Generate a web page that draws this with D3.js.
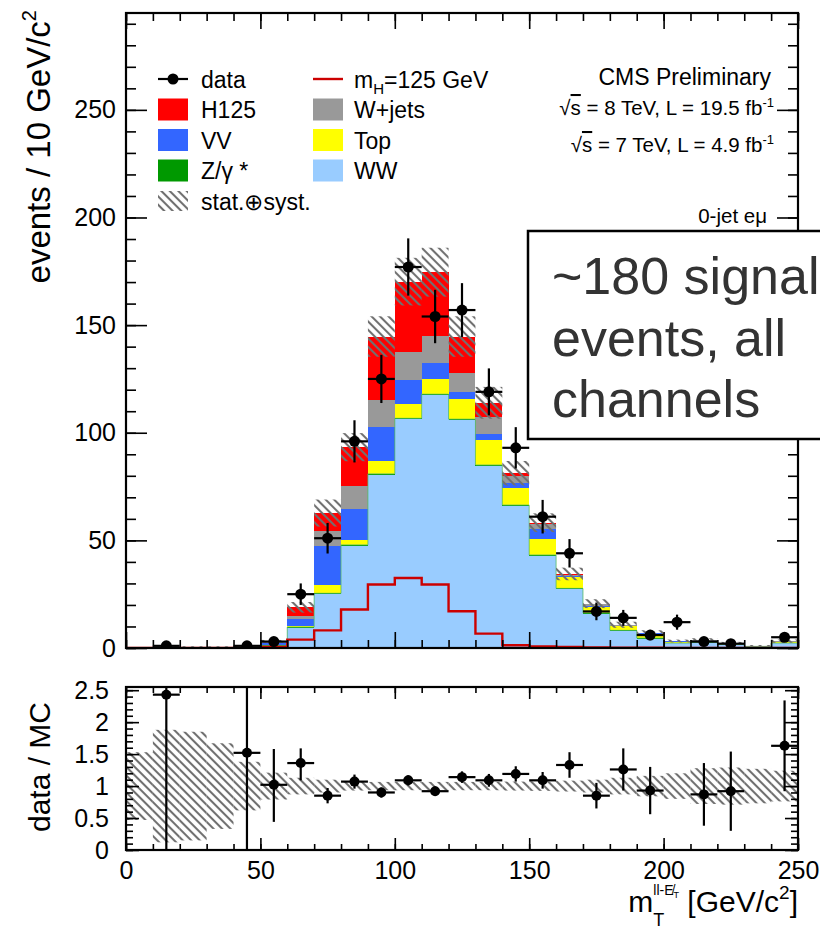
<!DOCTYPE html>
<html>
<head>
<meta charset="utf-8">
<script src="https://cdn.jsdelivr.net/npm/d3@7"></script>
<style>
  body { margin: 0; background: #fff; }
  svg { display: block; }
  text { font-family: "Liberation Sans", Arial, Helvetica, sans-serif; fill: #000; }
</style>
</head>
<body>
<svg id="chart" width="820" height="941"></svg>
<script>
// ---- binning: lower edges of the 10 GeV bins in m_T ----
const binLow = [0, 10, 20, 30, 40, 50, 60, 70, 80, 90, 100, 110, 120, 130, 140, 150, 160, 170, 180, 190, 200, 210, 220, 230, 240];
const binWidth = 10;

// ---- expected yields per bin (stacked bottom to top) ----
const WW    = [0.10, 0.15, 0.15, 0.18, 0.25, 1.0, 9.4, 25.0, 47.5, 80.5, 106.3, 117.5, 105.9, 84.6, 66.0, 42.9, 27.4, 16.0, 8.0, 4.4, 2.2, 2.4, 1.5, 0.7, 2.2];
const ZGamma= [0.05, 0.05, 0.05, 0.05, 0.10, 0.2, 0.3, 0.4, 0.4, 0.4, 0.4, 0.4, 0.4, 0.4, 0.4, 0.3, 0.3, 0.3, 0.2, 0.2, 0.1, 0.2, 0.1, 0.05, 0.1];
const Top   = [0.05, 0.07, 0.08, 0.08, 0.10, 0.4, 0.7, 3.9, 2.3, 6.1, 6.7, 6.9, 9.3, 11.7, 8.1, 7.5, 5.3, 2.8, 1.8, 1.9, 0.7, 0.6, 0.4, 0.2, 0.6];
const VV    = [0.05, 0.05, 0.07, 0.08, 0.10, 0.6, 3.1, 18.1, 14.4, 15.8, 11.1, 7.8, 3.5, 2.7, 2.0, 4.5, 0.3, 0.6, 0.3, 0.3, 0.1, 0.1, 0.1, 0.05, 0.1];
const WJets = [0.05, 0.10, 0.10, 0.10, 0.13, 0.4, 1.5, 7.1, 10.8, 12.4, 13.2, 12.5, 8.5, 7.8, 3.4, 2.3, 0.6, 0.6, 0.4, 0.2, 0.1, 0.2, 0.1, 0.1, 0.15];
const H125  = [0, 0, 0, 0, 0, 0.5, 3.9, 8.2, 17.9, 29.5, 32.5, 29.5, 17.1, 6.7, 1.3, 0.7, 0.5, 0.3, 0.1, 0.1, 0.05, 0.05, 0, 0, 0.05];

// relative stat (+) syst uncertainty on the total expectation
const bandRel = [0.53, 0.88, 0.85, 0.67, 0.38, 0.21, 0.13, 0.10, 0.07, 0.065, 0.065, 0.065, 0.065, 0.065, 0.07, 0.075, 0.085, 0.10, 0.13, 0.16, 0.20, 0.28, 0.29, 0.27, 0.24];

// ---- observed events ----
const dataCounts = [0, 1, 0, 0, 1, 3, 25, 51, 96, 125, 177, 154, 157, 119, 93, 61, 44, 17, 14, 6, 12, 3, 2, 0, 5];
const dataErr    = [0, 1, 0, 0, 1, 1.7, 5, 7.1, 9.8, 11.2, 13.3, 12.4, 12.5, 10.9, 9.6, 7.8, 6.6, 4.1, 3.7, 2.4, 3.5, 1.7, 1.4, 0, 2.2];

// ---- data / MC ----
const ratio      = [null, 2.43, null, null, 1.52, 1.02, 1.36, 0.85, 1.07, 0.90, 1.09, 0.92, 1.14, 1.09, 1.19, 1.09, 1.33, 0.85, 1.26, 0.93, null, 0.87, 0.92, null, 1.63];
const ratioErrLo = [0, 2.43, 0, 0, 1.52, 0.58, 0.27, 0.12, 0.11, 0.08, 0.08, 0.075, 0.09, 0.10, 0.12, 0.13, 0.20, 0.20, 0.33, 0.37, 0, 0.49, 0.62, 0, 0.71];
const ratioErrHi = [0, 3.00, 0, 0, 3.00, 0.56, 0.23, 0.12, 0.11, 0.08, 0.08, 0.075, 0.09, 0.10, 0.12, 0.13, 0.20, 0.20, 0.33, 0.37, 0, 0.49, 0.62, 0, 0.71];

// ---- axis ticks ----
const mainYTicks  = [0, 50, 100, 150, 200, 250];
const ratioYTicks = [0, 0.5, 1, 1.5, 2, 2.5];
const xTicks      = [0, 50, 100, 150, 200, 250];

// ---- processes ----
const procKeys   = ["WW", "ZGamma", "Top", "VV", "WJets", "H125"];
const procColors = { WW: "#99ccff", ZGamma: "#009900", Top: "#ffff00", VV: "#3366ff", WJets: "#999999", H125: "#ff0000" };
const procValues = { WW, ZGamma, Top, VV, WJets, H125 };

const legendLeft  = [
  { type: "data",  label: "data" },
  { type: "box",   key: "H125",   label: "H125" },
  { type: "box",   key: "VV",     label: "VV" },
  { type: "box",   key: "ZGamma", label: "Z/γ *" },
  { type: "hatch", label: "stat.⊕syst." }
];
const legendRight = [
  { type: "line",  label: "mH" },
  { type: "box",   key: "WJets",  label: "W+jets" },
  { type: "box",   key: "Top",    label: "Top" },
  { type: "box",   key: "WW",     label: "WW" }
];

const svg = d3.select("#chart");
svg.append("rect").attr("width", 820).attr("height", 941).attr("fill", "#fff");

const x  = d3.scaleLinear().domain([0, 250]).range([126, 798]);
const y  = d3.scaleLinear().domain([0, 295]).range([648, 13]);
const yr = d3.scaleLinear().domain([0, 2.55]).range([850, 687]);

const defs = svg.append("defs");
const hatch = defs.append("pattern").attr("id", "hatch")
  .attr("patternUnits", "userSpaceOnUse").attr("width", 6).attr("height", 6)
  .attr("patternTransform", "rotate(-45)");
hatch.append("line").attr("x1", 3).attr("y1", -1).attr("x2", 3).attr("y2", 7)
  .attr("stroke", "#707070").attr("stroke-width", 2.1);

defs.append("clipPath").attr("id", "clipMain").append("rect")
  .attr("x", x(0)).attr("y", y(295)).attr("width", x(250) - x(0)).attr("height", y(0) - y(295));
defs.append("clipPath").attr("id", "clipRatio").append("rect")
  .attr("x", x(0)).attr("y", yr(2.55)).attr("width", x(250) - x(0)).attr("height", yr(0) - yr(2.55));

// ---- main panel: stacked expectation ----
const rows = binLow.map((lo, i) => {
  const r = { lo };
  procKeys.forEach(k => r[k] = procValues[k][i]);
  return r;
});
const stacked = d3.stack().keys(procKeys)(rows);
const total = rows.map(r => d3.sum(procKeys, k => r[k]));

const main = svg.append("g").attr("clip-path", "url(#clipMain)");
stacked.forEach(s => {
  main.append("g").selectAll("rect").data(s).join("rect")
    .attr("x", d => x(d.data.lo))
    .attr("width", d => x(d.data.lo + binWidth) - x(d.data.lo))
    .attr("y", d => y(d[1]))
    .attr("height", d => Math.max(0, y(d[0]) - y(d[1])))
    .attr("fill", procColors[s.key])
    .attr("shape-rendering", "crispEdges");
});

// thin outline of the Z/gamma* layer
const zLayer = stacked[1];
const stepPts = [];
zLayer.forEach(d => { stepPts.push([d.data.lo, d[1]]); stepPts.push([d.data.lo + binWidth, d[1]]); });
main.append("path")
  .attr("d", d3.line().x(p => x(p[0])).y(p => y(p[1]))(stepPts))
  .attr("fill", "none").attr("stroke", "#55bb66").attr("stroke-width", 0.8);

// Higgs signal alone (m_H = 125 GeV)
const hPts = [];
binLow.forEach((lo, i) => { hPts.push([lo, H125[i]]); hPts.push([lo + binWidth, H125[i]]); });
main.append("path")
  .attr("d", d3.line().x(p => x(p[0])).y(p => y(p[1]))(hPts))
  .attr("fill", "none").attr("stroke", "#cc0000").attr("stroke-width", 2.4);

// uncertainty band
main.append("g").selectAll("rect").data(binLow).join("rect")
  .attr("x", (lo) => x(lo))
  .attr("width", (lo) => x(lo + binWidth) - x(lo))
  .attr("y", (lo, i) => y(total[i] * (1 + bandRel[i])))
  .attr("height", (lo, i) => y(total[i] * (1 - bandRel[i])) - y(total[i] * (1 + bandRel[i])))
  .attr("fill", "url(#hatch)");

// data points
const dataPts = binLow.map((lo, i) => ({ c: lo + binWidth / 2, lo, v: dataCounts[i], e: dataErr[i] })).filter(d => d.v > 0);
const dg = main.append("g");
dg.selectAll("line.h").data(dataPts).join("line").attr("class", "h")
  .attr("x1", d => x(d.lo)).attr("x2", d => x(d.lo + binWidth))
  .attr("y1", d => y(d.v)).attr("y2", d => y(d.v))
  .attr("stroke", "#000").attr("stroke-width", 2.2);
dg.selectAll("line.v").data(dataPts).join("line").attr("class", "v")
  .attr("x1", d => x(d.c)).attr("x2", d => x(d.c))
  .attr("y1", d => y(d.v - d.e)).attr("y2", d => y(d.v + d.e))
  .attr("stroke", "#000").attr("stroke-width", 2.2);
dg.selectAll("circle").data(dataPts).join("circle")
  .attr("cx", d => x(d.c)).attr("cy", d => y(d.v)).attr("r", 5.5).attr("fill", "#000");

// ---- ratio panel ----
const rat = svg.append("g").attr("clip-path", "url(#clipRatio)");
rat.append("g").selectAll("rect").data(binLow).join("rect")
  .attr("x", lo => x(lo))
  .attr("width", lo => x(lo + binWidth) - x(lo))
  .attr("y", (lo, i) => yr(1 + bandRel[i]))
  .attr("height", (lo, i) => yr(1 - bandRel[i]) - yr(1 + bandRel[i]))
  .attr("fill", "url(#hatch)");

const rPts = binLow.map((lo, i) => ({ c: lo + binWidth / 2, lo, v: ratio[i], lo_e: ratioErrLo[i], hi_e: ratioErrHi[i] })).filter(d => d.v !== null);
rat.selectAll("line.h").data(rPts).join("line").attr("class", "h")
  .attr("x1", d => x(d.lo)).attr("x2", d => x(d.lo + binWidth))
  .attr("y1", d => yr(d.v)).attr("y2", d => yr(d.v))
  .attr("stroke", "#000").attr("stroke-width", 2.2);
rat.selectAll("line.v").data(rPts).join("line").attr("class", "v")
  .attr("x1", d => x(d.c)).attr("x2", d => x(d.c))
  .attr("y1", d => yr(d.v - d.lo_e)).attr("y2", d => yr(d.v + d.hi_e))
  .attr("stroke", "#000").attr("stroke-width", 2.2);
rat.selectAll("circle").data(rPts).join("circle")
  .attr("cx", d => x(d.c)).attr("cy", d => yr(d.v)).attr("r", 5).attr("fill", "#000");

// ---- axes (ticks on all four sides, pointing inward) ----
function styleAxis(g) {
  g.select(".domain").remove();
  g.selectAll(".tick line").attr("stroke", "#000").attr("stroke-width", 1.6);
  g.selectAll(".tick text").attr("font-size", 25).attr("fill", "#000")
    .attr("font-family", '"Liberation Sans", Arial, Helvetica, sans-serif');
}
function minors(lo, hi, step) { return d3.range(lo, hi + step / 2, step); }

const mainYMinor = minors(0, 290, 10);
const xMinor = minors(0, 250, 10);
const ratioYMinor = minors(0, 2.5, 0.1);

// main panel
svg.append("g").attr("transform", `translate(${x(0)},0)`)
  .call(d3.axisLeft(y).tickValues(mainYMinor).tickSize(-10).tickFormat("")).call(styleAxis);
svg.append("g").attr("transform", `translate(${x(0)},0)`)
  .call(d3.axisLeft(y).tickValues(mainYTicks).tickSize(-21).tickPadding(10).tickFormat(d3.format("d"))).call(styleAxis);
svg.append("g").attr("transform", `translate(${x(250)},0)`)
  .call(d3.axisRight(y).tickValues(mainYMinor).tickSize(-10).tickFormat("")).call(styleAxis);
svg.append("g").attr("transform", `translate(${x(250)},0)`)
  .call(d3.axisRight(y).tickValues(mainYTicks).tickSize(-21).tickFormat("")).call(styleAxis);
svg.append("g").attr("transform", `translate(0,${y(0)})`)
  .call(d3.axisBottom(x).tickValues(xMinor).tickSize(-8).tickFormat("")).call(styleAxis);
svg.append("g").attr("transform", `translate(0,${y(0)})`)
  .call(d3.axisBottom(x).tickValues(xTicks).tickSize(-16).tickFormat("")).call(styleAxis);
svg.append("g").attr("transform", `translate(0,${y(295)})`)
  .call(d3.axisTop(x).tickValues(xMinor).tickSize(-8).tickFormat("")).call(styleAxis);
svg.append("g").attr("transform", `translate(0,${y(295)})`)
  .call(d3.axisTop(x).tickValues(xTicks).tickSize(-16).tickFormat("")).call(styleAxis);

// ratio panel
svg.append("g").attr("transform", `translate(${x(0)},0)`)
  .call(d3.axisLeft(yr).tickValues(ratioYMinor).tickSize(-7).tickFormat("")).call(styleAxis);
svg.append("g").attr("transform", `translate(${x(0)},0)`)
  .call(d3.axisLeft(yr).tickValues(ratioYTicks).tickSize(-13).tickPadding(17).tickFormat(d3.format("~g"))).call(styleAxis);
svg.append("g").attr("transform", `translate(${x(250)},0)`)
  .call(d3.axisRight(yr).tickValues(ratioYMinor).tickSize(-7).tickFormat("")).call(styleAxis);
svg.append("g").attr("transform", `translate(${x(250)},0)`)
  .call(d3.axisRight(yr).tickValues(ratioYTicks).tickSize(-13).tickFormat("")).call(styleAxis);
svg.append("g").attr("transform", `translate(0,${yr(0)})`)
  .call(d3.axisBottom(x).tickValues(xMinor).tickSize(-6).tickFormat("")).call(styleAxis);
svg.append("g").attr("transform", `translate(0,${yr(0)})`)
  .call(d3.axisBottom(x).tickValues(xTicks).tickSize(-12).tickPadding(11).tickFormat(d3.format("d"))).call(styleAxis);
svg.append("g").attr("transform", `translate(0,${yr(2.55)})`)
  .call(d3.axisTop(x).tickValues(xMinor).tickSize(-6).tickFormat("")).call(styleAxis);
svg.append("g").attr("transform", `translate(0,${yr(2.55)})`)
  .call(d3.axisTop(x).tickValues(xTicks).tickSize(-12).tickFormat("")).call(styleAxis);

// frames
svg.append("rect").attr("x", x(0)).attr("y", y(295)).attr("width", x(250) - x(0)).attr("height", y(0) - y(295))
  .attr("fill", "none").attr("stroke", "#000").attr("stroke-width", 2.2);
svg.append("rect").attr("x", x(0)).attr("y", yr(2.55)).attr("width", x(250) - x(0)).attr("height", yr(0) - yr(2.55))
  .attr("fill", "none").attr("stroke", "#000").attr("stroke-width", 2.2);

// ---- axis titles ----
const yt = svg.append("text").attr("transform", "translate(50,10) rotate(-90)")
  .attr("text-anchor", "end").attr("font-size", 33);
yt.append("tspan").text("events / 10 GeV/c");
yt.append("tspan").attr("font-size", 20).attr("dy", -14).text("2");

svg.append("text").attr("transform", "translate(50,767) rotate(-90)")
  .attr("text-anchor", "middle").attr("font-size", 30).text("data / MC");

const xt = svg.append("text").attr("x", 798).attr("y", 912).attr("text-anchor", "end").attr("font-size", 30);
xt.append("tspan").text("m");
xt.append("tspan").attr("font-size", 18).attr("dy", 14).text("T");
xt.append("tspan").attr("font-size", 14).attr("dx", -11).attr("dy", -31).text("ll-E\u0338");
xt.append("tspan").attr("font-size", 9).attr("dy", 3).text("T");
xt.append("tspan").attr("dy", 14).text(" [GeV/c");
xt.append("tspan").attr("font-size", 19).attr("dy", -13).text("2");
xt.append("tspan").attr("dy", 13).text("]");

// ---- legend ----
const rowY = [79, 109.5, 140, 170.5, 201];
function drawLegend(items, sx, tx) {
  items.forEach((it, i) => {
    const cy = rowY[i];
    if (it.type === "data") {
      svg.append("line").attr("x1", sx).attr("x2", sx + 30).attr("y1", cy).attr("y2", cy).attr("stroke", "#000").attr("stroke-width", 2.2);
      svg.append("circle").attr("cx", sx + 15).attr("cy", cy).attr("r", 5.5).attr("fill", "#000");
    } else if (it.type === "box") {
      svg.append("rect").attr("x", sx).attr("y", cy - 11).attr("width", 30).attr("height", 22).attr("fill", procColors[it.key]);
    } else if (it.type === "hatch") {
      svg.append("rect").attr("x", sx).attr("y", cy - 10).attr("width", 30).attr("height", 20).attr("fill", "url(#hatch)");
    } else if (it.type === "line") {
      svg.append("line").attr("x1", sx).attr("x2", sx + 30).attr("y1", cy).attr("y2", cy).attr("stroke", "#cc0000").attr("stroke-width", 2.4);
    }
    const t = svg.append("text").attr("x", tx).attr("y", cy + 8.5).attr("font-size", 23);
    if (it.type === "line") {
      t.append("tspan").text("m");
      t.append("tspan").attr("font-size", 15).attr("dy", 6).text("H");
      t.append("tspan").attr("dy", -6).text("=125 GeV");
    } else {
      t.text(it.label);
    }
  });
}
drawLegend(legendLeft, 158, 201);
drawLegend(legendRight, 313, 354);

// ---- labels, top right ----
svg.append("text").attr("x", 771).attr("y", 85).attr("text-anchor", "end").attr("font-size", 23).text("CMS Preliminary");
function lumiLine(yy, e, l) {
  const t = svg.append("text").attr("x", 774).attr("y", yy).attr("text-anchor", "end").attr("font-size", 20.5);
  t.append("tspan").text("√");
  t.append("tspan").attr("text-decoration", "overline").text("s");
  t.append("tspan").text(` = ${e} TeV, L = ${l} fb`);
  t.append("tspan").attr("font-size", 13).attr("dy", -8).text("-1");
}
lumiLine(115, 8, "19.5");
lumiLine(152, 7, "4.9");
svg.append("text").attr("x", 767).attr("y", 223).attr("text-anchor", "end").attr("font-size", 20.5).text("0-jet eμ");

// ---- annotation box ----
svg.append("rect").attr("x", 528).attr("y", 231).attr("width", 330).attr("height", 208)
  .attr("fill", "#fff").attr("stroke", "#000").attr("stroke-width", 2.5);
const note = ["~180 signal", "events, all", "channels"];
const noteY = [294, 356, 417];
note.forEach((s, i) => svg.append("text").attr("x", 552).attr("y", noteY[i]).attr("font-size", 52)
  .attr("fill", "#333").style("fill", "#333").text(s));
</script>
</body>
</html>
